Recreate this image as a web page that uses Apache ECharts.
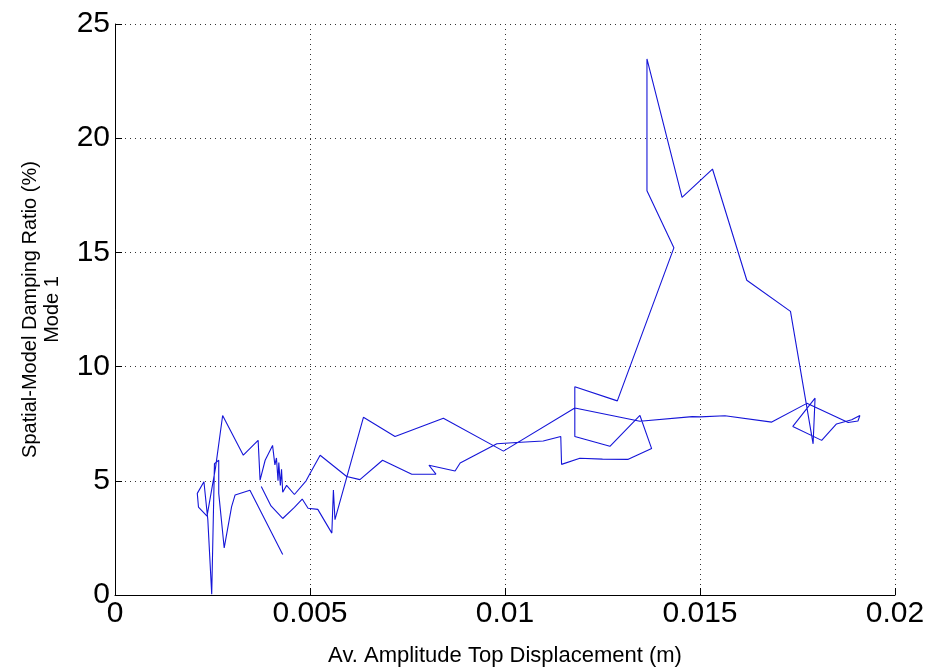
<!DOCTYPE html>
<html>
<head>
<meta charset="utf-8">
<script src="https://cdn.jsdelivr.net/npm/echarts@6/dist/echarts.min.js"></script>
<style>
html,body{margin:0;padding:0;background:#fff;}
#chart{width:928px;height:672px;}
</style>
</head>
<body>
<div id="chart"></div>
<script>
// Av. amplitude top displacement (m), in recorded order
const displacement = [
  0.0043, 0.00346, 0.00308, 0.00299, 0.0028, 0.00266, 0.00266, 0.00255, 0.00248, 0.00238,
  0.00228, 0.00211, 0.00214, 0.00236, 0.00258, 0.00276, 0.00329, 0.00367, 0.00372, 0.00385,
  0.00404, 0.0041, 0.00414, 0.00418, 0.0042, 0.00424, 0.00427, 0.0043, 0.0044, 0.0046,
  0.0049, 0.005, 0.00526, 0.00594, 0.00628, 0.00686, 0.00761, 0.00823, 0.00805,
  0.00872, 0.00885, 0.00979, 0.0103, 0.01098, 0.01143, 0.01145, 0.01192, 0.0125, 0.01316,
  0.01376, 0.01346, 0.01269, 0.01179, 0.01179, 0.01288, 0.01433, 0.01364, 0.01364, 0.01454,
  0.01532, 0.0162, 0.01732, 0.0179, 0.01795, 0.01738, 0.01812, 0.0185, 0.01889, 0.0191,
  0.01905, 0.0188, 0.01774, 0.01684, 0.01564, 0.015, 0.0148, 0.01346, 0.01179, 0.00996,
  0.00842, 0.00718, 0.00637, 0.00564, 0.0056, 0.00556, 0.0052, 0.00495, 0.0048, 0.0046,
  0.0043, 0.004, 0.00375
];
// Spatial-model damping ratio (%), Mode 1
const damping = [
  1.77, 4.59, 4.38, 3.87, 2.06, 4.45, 5.9, 5.75, 0.03, 3.3,
  4.96, 4.45, 3.85, 3.45, 5.6, 7.86, 6.12, 6.77, 5.03, 5.9,
  6.55, 5.7, 6.0, 5.0, 5.8, 4.8, 5.5, 4.5, 4.8, 4.4,
  5.0, 5.32, 6.12, 5.19, 5.05, 5.9, 5.29, 5.29, 5.68,
  5.43, 5.78, 6.62, 6.68, 6.74, 6.94, 5.72, 5.99, 5.95, 5.94,
  6.41, 7.86, 6.51, 6.94, 9.12, 8.5, 15.2, 17.7, 23.47, 17.41,
  18.65, 13.78, 12.42, 6.62, 8.62, 7.38, 6.77, 7.49, 7.67, 7.86,
  7.62, 7.55, 8.39, 7.57, 7.85, 7.8, 7.81, 7.61, 8.19, 6.3,
  7.74, 6.94, 7.78, 3.3, 4.6, 2.71, 3.75, 3.8, 4.2, 3.84,
  3.35, 3.9, 4.75
];
const xTicks = [0, 0.005, 0.01, 0.015, 0.02];
const yTicks = [0, 5, 10, 15, 20, 25];
const xTitle = 'Av. Amplitude Top Displacement (m)';
const yTitle = 'Spatial-Model Damping Ratio (%)\nMode 1';

const points = displacement.map((x, i) => [x, damping[i]]);
const FONT = '"Liberation Sans", Arial, Helvetica, sans-serif';

const chart = echarts.init(document.getElementById('chart'), null, {renderer: 'canvas'});
chart.setOption({
  animation: false,
  backgroundColor: '#ffffff',
  grid: {left: 115, top: 24, width: 780, height: 575, containLabel: false},
  xAxis: {
    type: 'value',
    min: xTicks[0], max: xTicks[xTicks.length - 1], interval: 0.005,
    name: xTitle, nameLocation: 'middle', nameGap: 50,
    nameTextStyle: {fontFamily: FONT, fontSize: 22, color: '#000'},
    axisLine: {show: true, onZero: false, lineStyle: {color: '#000', width: 1}},
    axisTick: {show: true, inside: true, length: 7, lineStyle: {color: '#000'}},
    axisLabel: {
      fontFamily: FONT, fontSize: 30, color: '#000', margin: 4,
      formatter: v => { const t = xTicks.find(k => Math.abs(k - v) < 1e-9); return t === undefined ? '' : String(t); }
    },
    splitLine: {show: true, lineStyle: {color: '#333', type: [1, 4], width: 1}}
  },
  yAxis: {
    type: 'value',
    min: yTicks[0], max: yTicks[yTicks.length - 1], interval: 5,
    name: yTitle, nameLocation: 'middle', nameGap: 52, nameRotate: 90,
    nameTextStyle: {fontFamily: FONT, fontSize: 20, color: '#000', lineHeight: 22, align: 'center'},
    axisLine: {show: true, onZero: false, lineStyle: {color: '#000', width: 1}},
    axisTick: {show: true, inside: true, length: 7, lineStyle: {color: '#000'}},
    axisLabel: {fontFamily: FONT, fontSize: 30, color: '#000', margin: 5},
    splitLine: {show: true, lineStyle: {color: '#333', type: [1, 4], width: 1}}
  },
  series: [{
    type: 'line',
    data: points,
    showSymbol: false,
    symbol: 'none',
    lineStyle: {color: '#1515d8', width: 1.1},
    silent: true
  }]
});
</script>
</body>
</html>
